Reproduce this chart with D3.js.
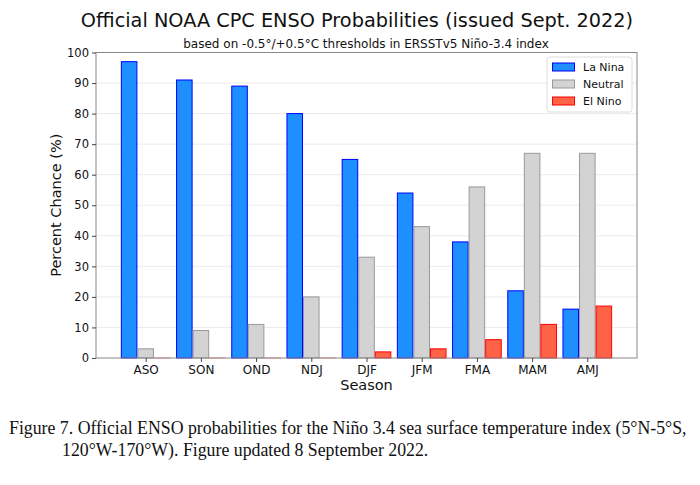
<!DOCTYPE html>
<html><head><meta charset="utf-8">
<script src="https://cdn.jsdelivr.net/npm/d3@7"></script>
<style>body{margin:0;background:#fff}svg{display:block}</style>
</head><body>
<svg id="c" width="700" height="485"></svg>
<script>
const seasons = ["ASO","SON","OND","NDJ","DJF","JFM","FMA","MAM","AMJ"];
const laNina  = [97, 91, 89, 80, 65, 54, 38, 22, 16];
const neutral = [3, 9, 11, 20, 33, 43, 56, 67, 67];
const elNino  = [0, 0, 0, 0, 2, 3, 6, 11, 17];
const yTicks  = [0,10,20,30,40,50,60,70,80,90,100];
const seriesNames = ["La Nina","Neutral","El Nino"];

const series = [
  {name: seriesNames[0], values: laNina,  fill: "#1E8FFF", stroke: "#0000ff", off: -0.3},
  {name: seriesNames[1], values: neutral, fill: "#D3D3D3", stroke: "#999999", off: 0},
  {name: seriesNames[2], values: elNino,  fill: "#FF6347", stroke: "#ff0000", off: 0.3}
];

const svg = d3.select("#c");
const L = 96, R = 637, T = 52.5, B = 358;
const x = d3.scaleLinear().domain([-0.9, 8.9]).range([L, R]);
const y = d3.scaleLinear().domain([0, 100]).range([B, T]);
const bw = x(0.3) - x(0);
const font = "DejaVu Sans, sans-serif";

// grid
svg.append("g").selectAll("line").data(yTicks.slice(1,-1)).join("line")
  .attr("x1", L).attr("x2", R).attr("y1", d => y(d)).attr("y2", d => y(d))
  .attr("stroke", "#ebebeb").attr("stroke-width", 1);

// bars
series.forEach(s => {
  svg.append("g").selectAll("rect").data(s.values).join("rect")
    .attr("x", (d,i) => x(i + s.off) - bw/2 + 0.5)
    .attr("width", bw - 1)
    .attr("y", d => y(d))
    .attr("height", d => Math.max(0.01, y(0) - y(d)))
    .attr("fill", s.fill).attr("stroke", s.stroke).attr("stroke-width", 1)
    .attr("stroke-opacity", d => d === 0 ? 0.45 : 1);
});

// frame
svg.append("rect").attr("x", L).attr("y", T).attr("width", R-L).attr("height", B-T)
  .attr("fill", "none").attr("stroke", "#888").attr("stroke-width", 1);

// y axis
const ya = svg.append("g").attr("transform", `translate(${L},0)`)
  .call(d3.axisLeft(y).tickValues(yTicks).tickSize(4).tickPadding(3));
ya.select(".domain").remove();
ya.selectAll("line").attr("stroke", "#444");
ya.selectAll("text").attr("font-family", font).attr("font-size", 11.5).attr("fill", "#111");

// x axis
const xa = svg.append("g").attr("transform", `translate(0,${B})`)
  .call(d3.axisBottom(x).tickValues(d3.range(seasons.length)).tickFormat(i => seasons[i]).tickSize(4).tickPadding(3));
xa.select(".domain").remove();
xa.selectAll("line").attr("stroke", "#444");
xa.selectAll("text").attr("font-family", font).attr("font-size", 12).attr("fill", "#111");

// titles
svg.append("text").attr("x", 357).attr("y", 27).attr("text-anchor", "middle")
  .attr("font-family", font).attr("font-size", 19.3).attr("fill", "#111")
  .text("Official NOAA CPC ENSO Probabilities (issued Sept. 2022)");
svg.append("text").attr("x", 366).attr("y", 48).attr("text-anchor", "middle")
  .attr("font-family", font).attr("font-size", 12).attr("fill", "#111")
  .text("based on -0.5°/+0.5°C thresholds in ERSSTv5 Niño-3.4 index");
svg.append("text").attr("transform", `translate(61,${(T+B)/2}) rotate(-90)`).attr("text-anchor", "middle")
  .attr("font-family", font).attr("font-size", 14.5).attr("fill", "#111")
  .text("Percent Chance (%)");
svg.append("text").attr("x", (L+R)/2).attr("y", 390).attr("text-anchor", "middle")
  .attr("font-family", font).attr("font-size", 14.5).attr("fill", "#111")
  .text("Season");

// legend
const lg = svg.append("g").attr("transform", "translate(547,57)");
lg.append("rect").attr("width", 85).attr("height", 55).attr("rx", 3)
  .attr("fill", "#fff").attr("stroke", "#ddd");
series.forEach((s, i) => {
  lg.append("rect").attr("x", 5.5).attr("y", 6 + i*17).attr("width", 22).attr("height", 8)
    .attr("fill", s.fill).attr("stroke", s.stroke);
  lg.append("text").attr("x", 36).attr("y", 14 + i*17)
    .attr("font-family", font).attr("font-size", 11).attr("fill", "#111").text(s.name);
});

// caption
const cap = svg.append("g").attr("font-family", "Liberation Serif, Times New Roman, serif")
  .attr("font-size", 17.8).attr("fill", "#111");
cap.append("text").attr("x", 9).attr("y", 434)
  .text("Figure 7. Official ENSO probabilities for the Niño 3.4 sea surface temperature index (5°N-5°S,");
cap.append("text").attr("x", 62).attr("y", 456)
  .text("120°W-170°W). Figure updated 8 September 2022.");
</script>
</body></html>
